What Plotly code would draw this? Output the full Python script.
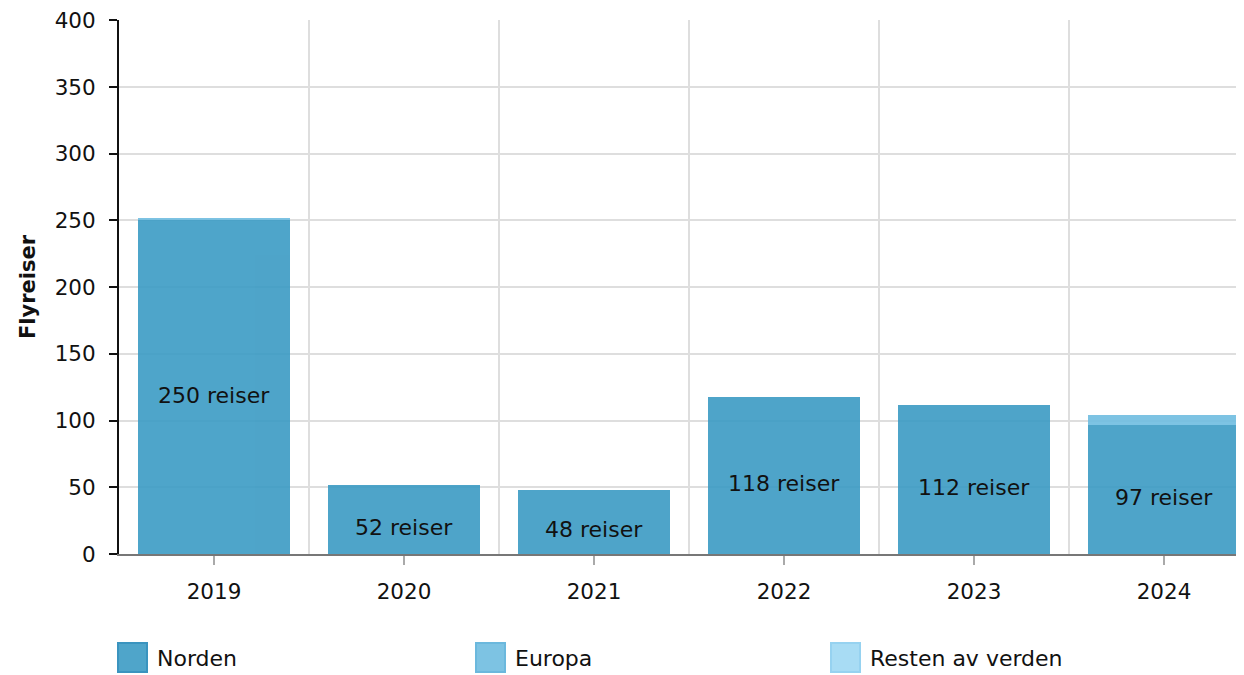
import plotly.graph_objects as go

years = ["2019", "2020", "2021", "2022", "2023", "2024"]
norden = [250, 52, 48, 118, 112, 97]
europa = [2, 0, 0, 0, 0, 7]
resten = [0, 0, 0, 0, 0, 0]
series_names = ["Norden", "Europa", "Resten av verden"]
y_ticks = [0, 50, 100, 150, 200, 250, 300, 350, 400]

bar_colors = ["#3B9BC4", "#6FBCE0", "#9ED8F3"]
legend_fill = ["#4FA5CA", "#7DC3E3", "#A8DCF4"]
legend_line = ["#3A94BF", "#6BB8DD", "#96D2F0"]

FONT = "DejaVu Sans"
OFF = 8  # page body margin
W, H = 1244 - OFF, 675 - OFF
L, T = 119 - OFF, 20 - OFF
PLOT_BOTTOM = 554 - OFF
B = H - PLOT_BOTTOM
PW = W - L
PH = PLOT_BOTTOM - T

xpos = list(range(len(years)))

fig = go.Figure()
for name, vals, col in zip(series_names, [norden, europa, resten], bar_colors):
    fig.add_trace(go.Bar(
        x=xpos, y=vals, name=name, width=0.8,
        marker=dict(color=col, line=dict(width=0)),
        opacity=0.9, showlegend=False, hoverinfo="skip",
    ))

for i, v in enumerate(norden):
    fig.add_annotation(x=xpos[i], y=v / 2, text=f"{v} reiser", showarrow=False,
                       yshift=-8, font=dict(family=FONT, size=22, color="#111111"))

# manual legend (larger squares as in the reference); screen pixel -> paper
def px_x(p):
    return (p - OFF - L) / PW

def px_y(p):
    return (PLOT_BOTTOM - (p - OFF)) / PH

legend_x = [118, 476, 831]
for name, x0, fc, lc in zip(series_names, legend_x, legend_fill, legend_line):
    fig.add_shape(type="rect", xref="paper", yref="paper",
                  x0=px_x(x0), x1=px_x(x0 + 29), y0=px_y(672), y1=px_y(643),
                  fillcolor=fc, line=dict(color=lc, width=2))
    fig.add_annotation(xref="paper", yref="paper", x=px_x(x0 + 37), y=px_y(658),
                       text=name, showarrow=False, xanchor="left", yanchor="middle",
                       font=dict(family=FONT, size=22, color="#111111"))

fig.update_layout(
    width=W, height=H,
    margin=dict(l=L, r=0, t=T, b=B),
    barmode="stack",
    plot_bgcolor="white", paper_bgcolor="white",
    font=dict(family=FONT, size=21.5, color="#111111"),
    xaxis=dict(
        range=[-0.5, -0.5 + PW / 190.0],
        tickvals=xpos, ticktext=years,
        showgrid=False, zeroline=False,
        showline=True, linecolor="#777777", linewidth=2,
        ticks="outside", ticklen=9, tickwidth=2, tickcolor="#aaaaaa",
        ticklabelstandoff=8,
        tickfont=dict(family=FONT, size=21.5, color="#111111"),
        minor=dict(tickvals=[0.5, 1.5, 2.5, 3.5, 4.5], showgrid=True,
                   gridcolor="#dedede", gridwidth=2, ticks=""),
        fixedrange=True,
    ),
    yaxis=dict(
        range=[0, 400.2], tickvals=y_ticks,
        showgrid=True, gridcolor="#dedede", gridwidth=2,
        zeroline=False,
        showline=True, linecolor="#111111", linewidth=2,
        ticks="outside", ticklen=8, tickwidth=2, tickcolor="#111111",
        ticklabelstandoff=9, ticklabeloverflow="allow",
        tickfont=dict(family=FONT, size=21.5, color="#111111"),
        title=dict(text="<b>Flyreiser</b>", font=dict(family=FONT, size=21, color="#111111"),
                   standoff=13),
        fixedrange=True,
    ),
)

fig.write_html("out.html")
